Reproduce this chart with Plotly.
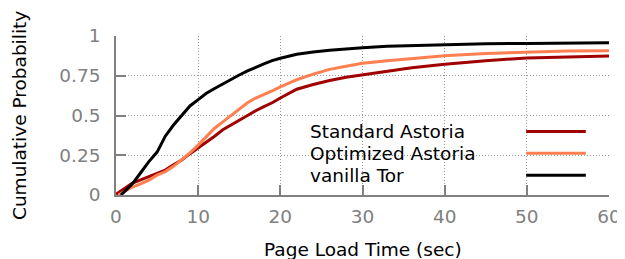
import plotly.graph_objects as go

# ---- data ----
std_x = [0, 1, 2, 3, 4, 5, 6, 7, 8, 9, 10, 11, 12, 13, 14, 15, 16, 17, 18, 19, 20,
         22, 24, 26, 28, 30, 33, 36, 40, 45, 50, 55, 60]
std_y = [0.005, 0.04, 0.075, 0.095, 0.115, 0.135, 0.157, 0.19, 0.22, 0.26, 0.295,
         0.335, 0.37, 0.41, 0.44, 0.475, 0.505, 0.53, 0.556, 0.58, 0.61,
         0.665, 0.695, 0.72, 0.74, 0.755, 0.78, 0.80, 0.822, 0.845, 0.862, 0.87, 0.874]

opt_x = [0.3, 1, 2, 3, 4, 5, 6, 7, 8, 9, 10, 11, 12, 13, 14, 15, 16, 17, 18, 19, 20,
         22, 24, 26, 28, 30, 33, 36, 40, 45, 50, 55, 60]
opt_y = [0.0, 0.02, 0.05, 0.07, 0.094, 0.125, 0.147, 0.18, 0.22, 0.265, 0.314,
         0.37, 0.42, 0.46, 0.50, 0.54, 0.58, 0.61, 0.63, 0.655, 0.68,
         0.725, 0.76, 0.79, 0.81, 0.828, 0.845, 0.86, 0.876, 0.89, 0.90, 0.906, 0.908]

tor_x = [0.6, 1, 2, 3, 4, 5, 6, 7, 8, 9, 10, 11, 12, 13, 14, 15, 16, 17, 18, 19, 20,
         22, 24, 26, 28, 30, 33, 36, 40, 45, 50, 55, 60]
tor_y = [0.0, 0.02, 0.07, 0.14, 0.21, 0.27, 0.37, 0.44, 0.50, 0.56, 0.60,
         0.64, 0.67, 0.70, 0.73, 0.755, 0.78, 0.805, 0.825, 0.845, 0.86,
         0.885, 0.90, 0.91, 0.92, 0.926, 0.935, 0.94, 0.948, 0.952, 0.953, 0.956, 0.958]

series_names = ["Standard Astoria", "Optimized Astoria", "vanilla Tor"]
series_colors = ["#a00000", "#ff7f50", "#000000"]

x_ticks = [0, 10, 20, 30, 40, 50, 60]
y_ticks = [0, 0.25, 0.5, 0.75, 1]
y_tick_labels = ["0", "0.25", "0.5", "0.75", "1"]

FONT = "DejaVu Sans"
GRAY = "#808080"
FS = 18.5

fig = go.Figure()
for xs, ys, name, col in zip([std_x, opt_x, tor_x], [std_y, opt_y, tor_y],
                             series_names, series_colors):
    fig.add_trace(go.Scatter(x=xs, y=ys, mode="lines", name=name,
                             line=dict(color=col, width=3), showlegend=False))

# legend drawn gnuplot-style: text left, sample line right
leg_y = [0.40, 0.262, 0.124]
for name, col, yy in zip(series_names, series_colors, leg_y):
    fig.add_annotation(x=0.389, y=yy, xref="paper", yref="paper", text=name,
                       showarrow=False, xanchor="left", yanchor="middle",
                       font=dict(family=FONT, size=FS, color="black"))
    fig.add_shape(type="line", xref="paper", yref="paper", x0=0.832, x1=0.953,
                  y0=yy, y1=yy, line=dict(color=col, width=3))

# axis titles
fig.add_annotation(x=0.5, y=-0.345, xref="paper", yref="paper",
                   text="Page Load Time (sec)", showarrow=False,
                   xanchor="center", yanchor="middle",
                   font=dict(family=FONT, size=FS, color="black"))
fig.add_annotation(x=-0.1957, y=0.5, xref="paper", yref="paper",
                   text="Cumulative Probability", showarrow=False, textangle=-90,
                   xanchor="center", yanchor="middle",
                   font=dict(family=FONT, size=FS, color="black"))

# page body has an 8px margin: shrink the figure so it fits the 625x259 window
fig.update_layout(
    width=617, height=251,
    margin=dict(l=108, r=16, t=28, b=64),
    paper_bgcolor="white", plot_bgcolor="white",
    font=dict(family=FONT, size=FS, color=GRAY),
)
fig.update_xaxes(
    range=[0, 60], tickvals=x_ticks, ticks="inside", ticklen=10, tickwidth=1.5,
    tickcolor=GRAY, showline=True, linecolor=GRAY, linewidth=1.5,
    showgrid=True, gridcolor="#999999", griddash="1px,2px", gridwidth=1, zeroline=False,
    tickfont=dict(family=FONT, size=FS, color=GRAY), ticklabelstandoff=4,
    automargin=False,
)
fig.update_yaxes(
    range=[0, 1], tickvals=y_ticks, ticktext=y_tick_labels, ticks="inside", ticklen=10,
    tickwidth=1.5, tickcolor=GRAY, showline=True, linecolor=GRAY, linewidth=1.5,
    showgrid=True, gridcolor="#999999", griddash="1px,2px", gridwidth=1, zeroline=False,
    tickfont=dict(family=FONT, size=FS, color=GRAY), ticklabelstandoff=10,
    automargin=False,
)

fig.write_html("out.html")
